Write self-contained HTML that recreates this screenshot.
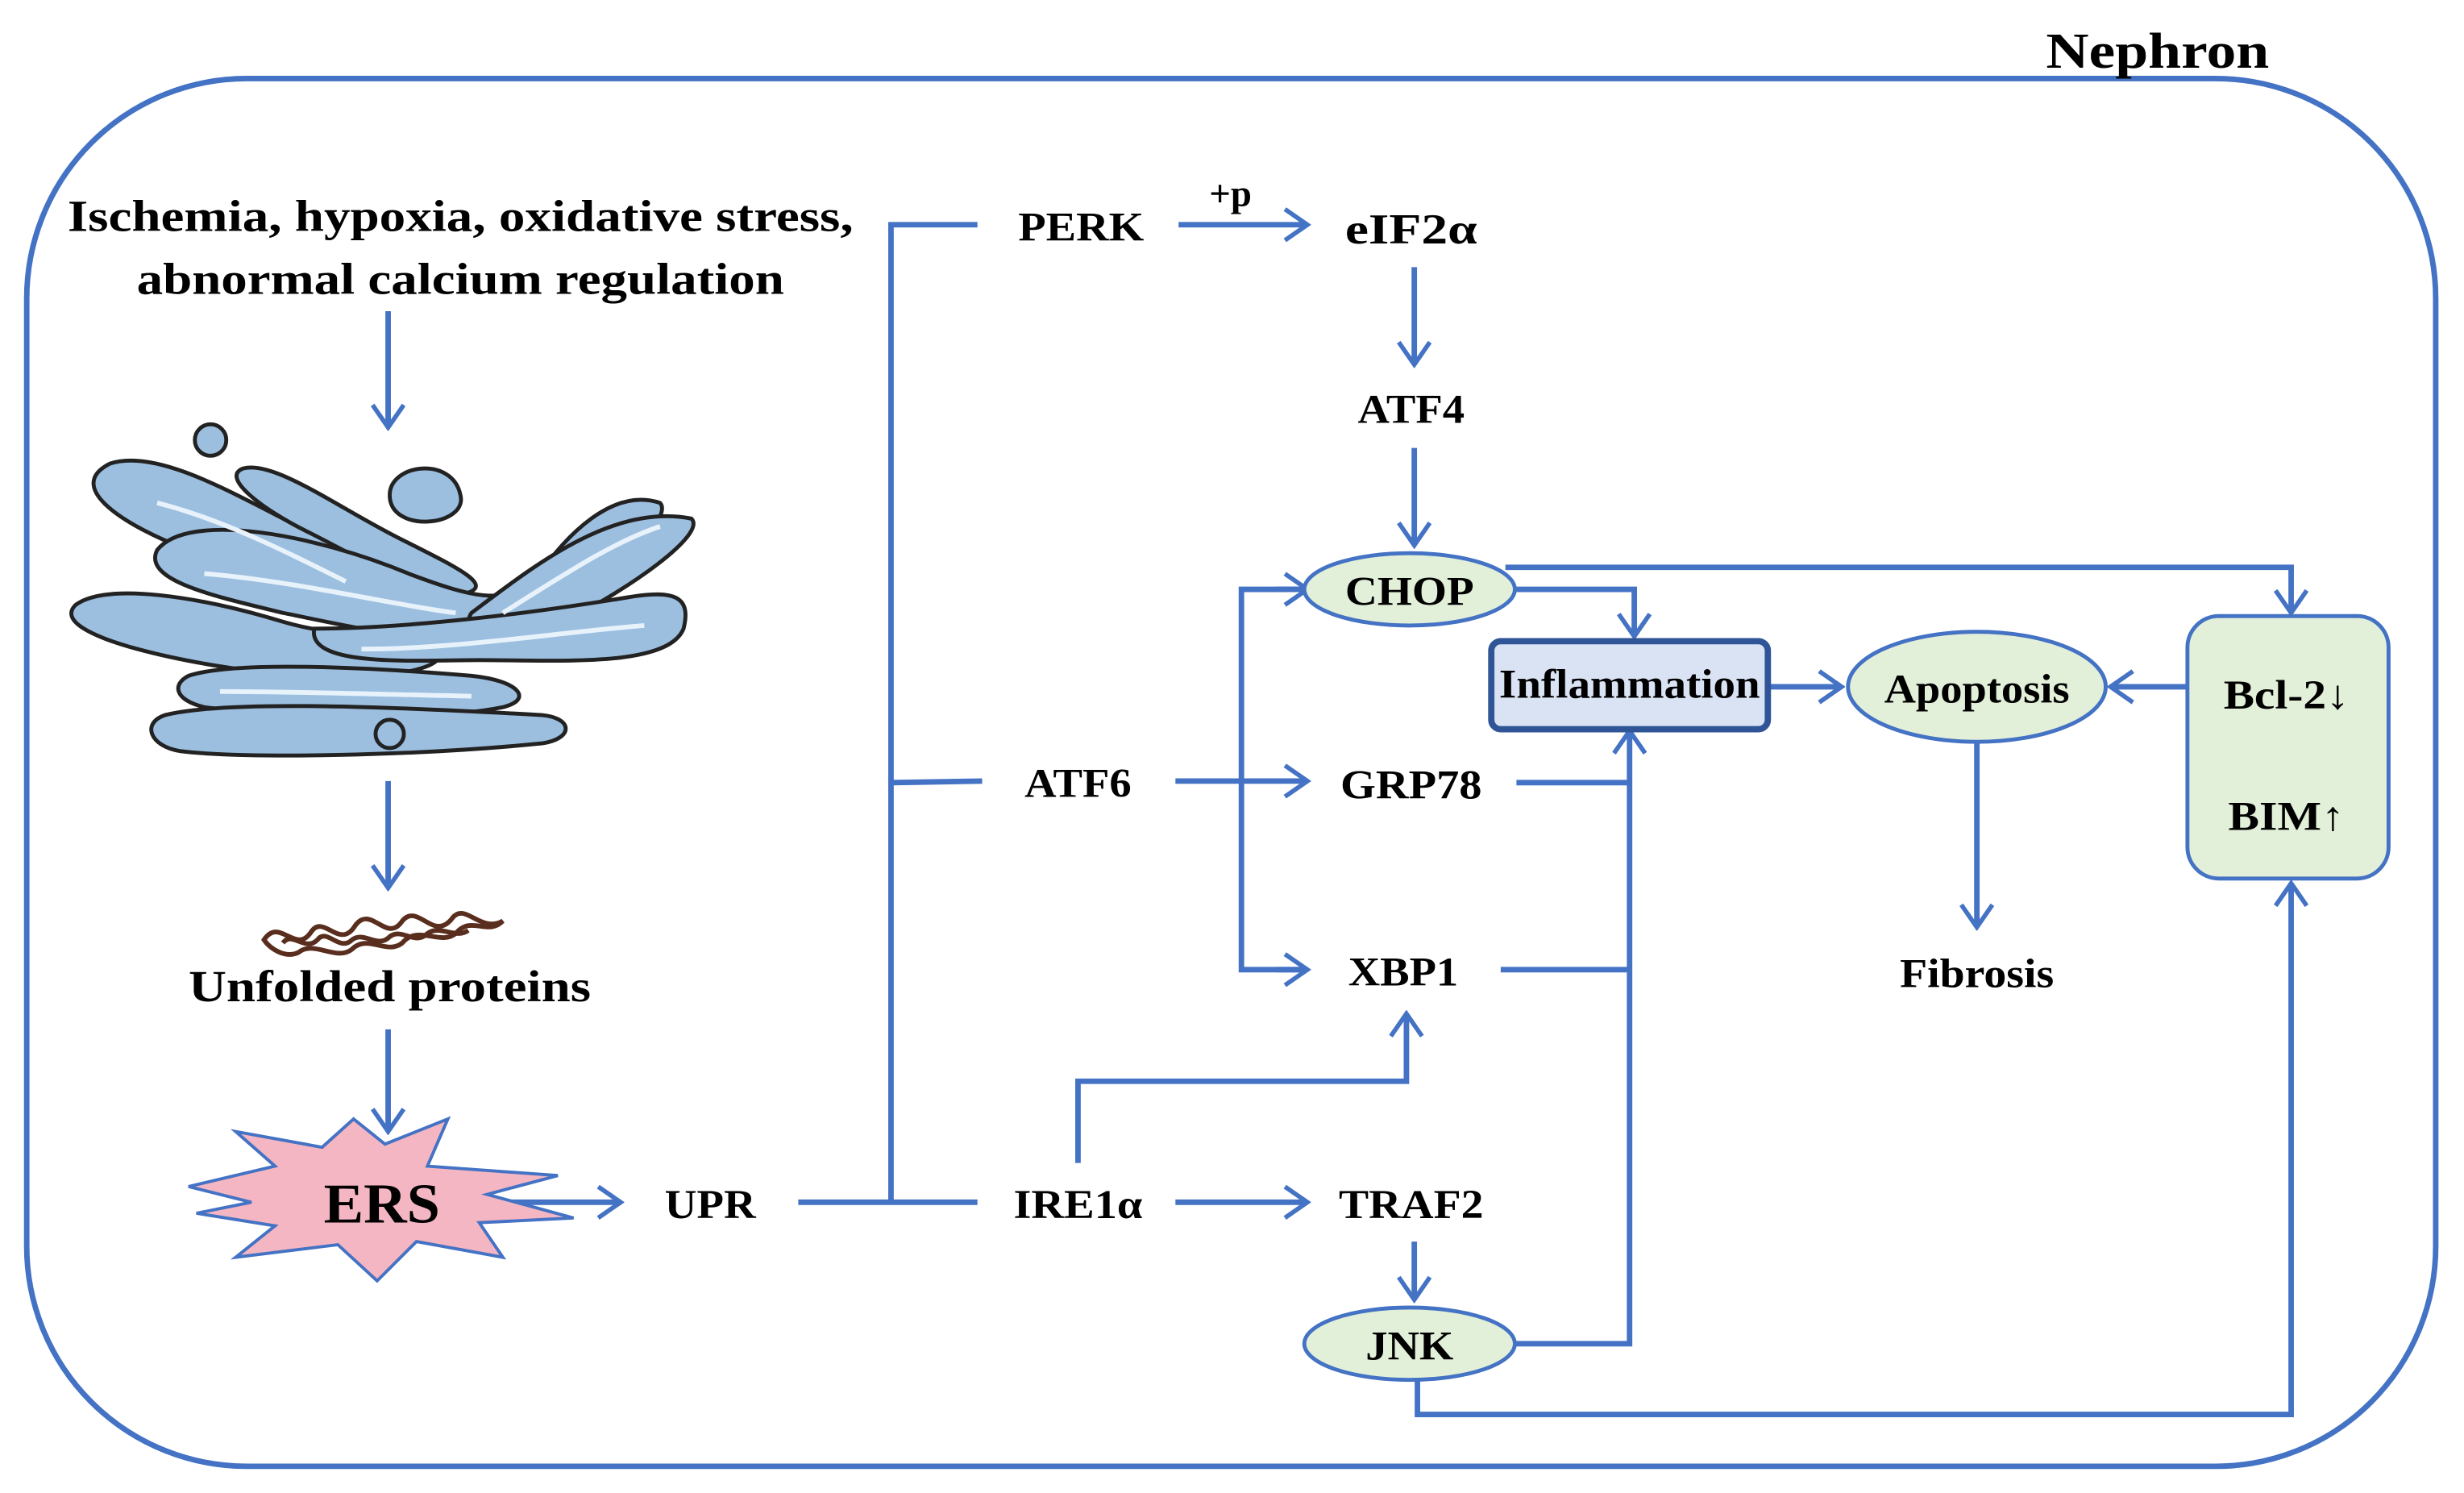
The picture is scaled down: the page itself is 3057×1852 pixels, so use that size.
<!DOCTYPE html>
<html><head><meta charset="utf-8"><style>
html,body{margin:0;padding:0;background:#fff}
svg{display:block}
text{font-family:"Liberation Serif","Times New Roman",serif;font-weight:bold;fill:#000}
</style></head><body>
<svg width="3057" height="1852" viewBox="0 0 1568 950" preserveAspectRatio="none" xmlns="http://www.w3.org/2000/svg" font-family="Liberation Serif, serif" font-weight="bold">
<defs>
<marker id="a" viewBox="0 0 20 20" refX="18" refY="10" markerWidth="22" markerHeight="22" markerUnits="userSpaceOnUse" orient="auto">
<polyline points="5,1 18,10 5,19" fill="none" stroke="#4472c4" stroke-width="2.6"/>
</marker>
</defs>
<rect x="17" y="50" width="1533" height="883" rx="140" ry="140" fill="none" stroke="#4472c4" stroke-width="3.5"/>
<text x="1373" y="43" font-size="32" text-anchor="middle" textLength="142" lengthAdjust="spacingAndGlyphs">Nephron</text>
<text x="293" y="147" font-size="28" text-anchor="middle" textLength="500" lengthAdjust="spacingAndGlyphs">Ischemia, hypoxia, oxidative stress,</text>
<text x="293" y="187" font-size="28" text-anchor="middle" textLength="412" lengthAdjust="spacingAndGlyphs">abnormal calcium regulation</text>

<g stroke="#4472c4" stroke-width="3.5" fill="none">
<line x1="247" y1="198" x2="247" y2="272" marker-end="url(#a)"/>
<line x1="247" y1="497" x2="247" y2="565" marker-end="url(#a)"/>
<line x1="247" y1="655" x2="247" y2="720" marker-end="url(#a)"/>
<line x1="305" y1="765" x2="395" y2="765" marker-end="url(#a)"/>
<polyline points="508,765 622,765"/>
<polyline points="622,143 567,143 567,765"/>
<line x1="567" y1="498" x2="625" y2="497"/>
<line x1="750" y1="143" x2="832" y2="143" marker-end="url(#a)"/>
<line x1="900" y1="170" x2="900" y2="232" marker-end="url(#a)"/>
<line x1="900" y1="285" x2="900" y2="347" marker-end="url(#a)"/>
<line x1="748" y1="497" x2="832" y2="497" marker-end="url(#a)"/>
<polyline points="832,375 790,375 790,617 832,617"/>
<line x1="812" y1="375" x2="832" y2="375" marker-end="url(#a)"/>
<line x1="812" y1="617" x2="832" y2="617" marker-end="url(#a)"/>
<line x1="748" y1="765" x2="832" y2="765" marker-end="url(#a)"/>
<polyline points="686,740 686,688 895,688 895,645" marker-end="url(#a)"/>
<line x1="900" y1="790" x2="900" y2="827" marker-end="url(#a)"/>
<polyline points="965,855 1037,855 1037,465" marker-end="url(#a)"/>
<line x1="965" y1="498" x2="1037" y2="498"/>
<line x1="955" y1="617" x2="1037" y2="617"/>
<polyline points="964,375 1040,375 1040,405" marker-end="url(#a)"/>
<polyline points="958,361 1458,361 1458,390" marker-end="url(#a)"/>
<line x1="1126" y1="437" x2="1172" y2="437" marker-end="url(#a)"/>
<line x1="1392" y1="437" x2="1343" y2="437" marker-end="url(#a)"/>
<line x1="1258" y1="472" x2="1258" y2="590" marker-end="url(#a)"/>
<polyline points="902,878 902,900 1458,900 1458,562" marker-end="url(#a)"/>
</g>
<text x="783" y="131" font-size="24" text-anchor="middle">+p</text>
<text x="688" y="153" font-size="26" text-anchor="middle" textLength="80" lengthAdjust="spacingAndGlyphs">PERK</text>
<text x="898" y="155" font-size="27" text-anchor="middle" textLength="84" lengthAdjust="spacingAndGlyphs">eIF2α</text>
<text x="898" y="269" font-size="26" text-anchor="middle" textLength="68" lengthAdjust="spacingAndGlyphs">ATF4</text>
<ellipse cx="897" cy="375" rx="67" ry="23" fill="#e2efd9" stroke="#4472c4" stroke-width="2.5"/>
<text x="897" y="385" font-size="26" text-anchor="middle" textLength="82" lengthAdjust="spacingAndGlyphs">CHOP</text>
<text x="686" y="507" font-size="26" text-anchor="middle" textLength="68" lengthAdjust="spacingAndGlyphs">ATF6</text>
<text x="898" y="508" font-size="26" text-anchor="middle" textLength="90" lengthAdjust="spacingAndGlyphs">GRP78</text>
<text x="893" y="627" font-size="26" text-anchor="middle" textLength="70" lengthAdjust="spacingAndGlyphs">XBP1</text>
<text x="686" y="775" font-size="26" text-anchor="middle" textLength="82" lengthAdjust="spacingAndGlyphs">IRE1α</text>
<text x="898" y="775" font-size="26" text-anchor="middle" textLength="92" lengthAdjust="spacingAndGlyphs">TRAF2</text>
<ellipse cx="897" cy="855" rx="67" ry="23" fill="#e2efd9" stroke="#4472c4" stroke-width="2.5"/>
<text x="897" y="865" font-size="26" text-anchor="middle" textLength="56" lengthAdjust="spacingAndGlyphs">JNK</text>
<text x="452" y="775" font-size="26" text-anchor="middle" textLength="58" lengthAdjust="spacingAndGlyphs">UPR</text>
<rect x="949" y="408" width="176" height="56" rx="6" fill="#dae3f3" stroke="#2f5597" stroke-width="4"/>
<text x="1037" y="444" font-size="26" text-anchor="middle" textLength="166" lengthAdjust="spacingAndGlyphs">Inflammation</text>
<ellipse cx="1258" cy="437" rx="82" ry="35" fill="#e2efd9" stroke="#4472c4" stroke-width="2.5"/>
<text x="1258" y="447" font-size="26" text-anchor="middle" textLength="118" lengthAdjust="spacingAndGlyphs">Apoptosis</text>
<rect x="1392" y="392" width="128" height="167" rx="20" fill="#e2efd9" stroke="#4472c4" stroke-width="2.5"/>
<text x="1455" y="451" font-size="26" text-anchor="middle" textLength="80" lengthAdjust="spacingAndGlyphs">Bcl-2↓</text>
<text x="1455" y="528" font-size="26" text-anchor="middle" textLength="74" lengthAdjust="spacingAndGlyphs">BIM↑</text>
<text x="1258" y="628" font-size="26" text-anchor="middle" textLength="98" lengthAdjust="spacingAndGlyphs">Fibrosis</text>
<text x="248" y="637" font-size="28" text-anchor="middle" textLength="256" lengthAdjust="spacingAndGlyphs">Unfolded proteins</text>

<polygon points="120,755 175,742 150,720 205,730 225,712 245,728 285,712 272,742 355,748 310,760 365,775 305,778 320,800 265,790 240,815 215,792 150,800 175,780 125,772 160,765" fill="#f4b6c2" stroke="#4472c4" stroke-width="2"/>
<text x="243" y="778" font-size="36" text-anchor="middle" textLength="74" lengthAdjust="spacingAndGlyphs">ERS</text>

<g fill="none" stroke="#5a2e1e" stroke-width="3">
<path d="M168,598 c10,-15 20,10 30,-5 c8,-12 18,12 28,-4 c10,-14 20,12 30,-3 c10,-12 20,14 32,-2 c8,-10 18,10 32,2 c-10,10 -20,-4 -30,8 c-10,8 -24,-6 -34,6 c-10,8 -22,-6 -32,4 c-10,8 -24,-6 -34,2 c-8,4 -18,-2 -22,-8z"/>
<path d="M180,600 c6,-8 14,6 22,-2 c6,-8 14,8 22,0 c8,-6 16,6 24,-2 c8,-6 16,6 24,-2 c8,-6 18,4 26,-2"/>
</g>

<g stroke="#222" stroke-width="2.5" fill="#9cbfe0">
<circle cx="134" cy="280" r="10"/>
<path d="M70,295 c30,-10 80,20 120,40 c40,20 80,40 60,55 c-20,10 -80,-20 -130,-40 c-40,-15 -80,-40 -50,-55z"/>
<path d="M155,298 c20,-5 60,25 100,45 c40,20 60,30 40,35 c-20,5 -60,-20 -100,-40 c-30,-15 -55,-35 -40,-40z"/>
<path d="M248,315 c0,-20 40,-25 45,0 c5,20 -45,25 -45,0z"/>
<path d="M100,350 c20,-25 100,-10 160,15 c40,15 60,20 80,5 c20,-30 50,-60 80,-50 c10,10 -40,60 -90,80 c-40,15 -100,0 -150,-10 c-40,-10 -90,-20 -80,-40z"/>
<path d="M300,390 c40,-30 90,-70 140,-60 c10,10 -40,45 -80,65 c-30,15 -70,10 -60,-5z"/>
<path d="M48,385 c20,-15 80,-5 130,10 c40,12 80,10 100,20 c10,10 -40,20 -90,15 c-60,-5 -160,-25 -140,-45z"/>
<path d="M200,400 c60,0 140,-10 200,-20 c30,-5 40,0 35,20 c-10,25 -80,20 -130,20 c-40,0 -110,5 -105,-20z"/>
<path d="M120,430 c30,-10 120,-5 180,0 c30,3 40,15 20,20 c-50,10 -150,5 -190,0 c-20,-5 -20,-15 -10,-20z"/>
<path d="M105,455 c40,-10 150,-5 240,0 c20,2 20,15 0,18 c-80,8 -190,10 -230,5 c-20,-3 -25,-18 -10,-23z"/>
<circle cx="248" cy="467" r="9"/>
</g>
<g stroke="#e8f2fb" stroke-width="3" fill="none">
<path d="M100,320 c40,10 80,30 120,50"/>
<path d="M130,365 c60,5 120,20 160,25"/>
<path d="M320,390 c40,-25 70,-45 100,-55"/>
<path d="M230,413 c60,0 120,-10 180,-15"/>
<path d="M140,440 c50,0 110,2 160,3"/>
</g>
</svg>
</body></html>
